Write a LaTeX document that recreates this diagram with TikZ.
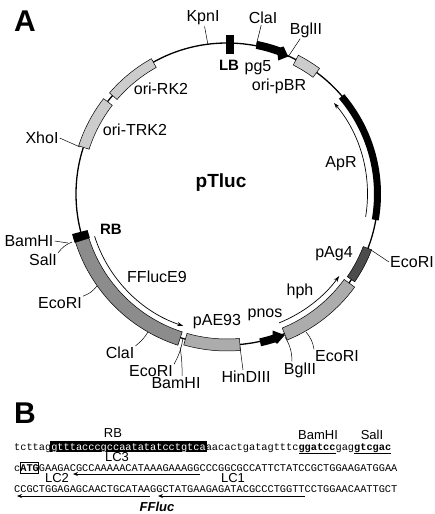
\documentclass[tikz,border=0pt]{standalone}
\usepackage{fontspec}
\usetikzlibrary{arrows.meta}
\setmainfont{Liberation Sans}
\setmonofont{Liberation Mono}
\tikzset{
  site/.style={font=\fontsize{16}{18}\selectfont,inner sep=1pt},
  small/.style={font=\fontsize{13}{15}\selectfont,inner sep=0pt},
  seq/.style={font=\fontsize{10.3}{12}\ttfamily,anchor=base west,inner sep=0pt},
  leader/.style={line width=0.5pt},
  tick/.style={line width=0.7pt,-{Stealth[length=6pt,width=4pt]}},
  feat/.style={draw=black,line width=0.5pt,fill=#1}
}
% plasmid segment: start angle, end angle, inner and outer radius
\newcommand{\plasmidseg}[5]{\path[#1] (#2:#4) arc[start angle=#2,end angle=#3,radius=#4]
  -- (#3:#5) arc[start angle=#3,end angle=#2,radius=#5] -- cycle;}
\begin{document}
\begin{tikzpicture}[x=1pt,y=1pt]
\useasboundingbox (0,0) rectangle (434,-514);
\node[font=\fontsize{30}{32}\bfseries,inner sep=0pt] (panela) at (25,-21) {A};
\node[font=\fontsize{30}{32}\bfseries,inner sep=0pt] (panelb) at (25,-413) {B};

\begin{scope}[shift={(227,-194)}]
\draw[line width=1.3pt] (0,0) circle (151);
\plasmidseg{feat=gray!40}{119.2}{139.3}{145}{155}
\plasmidseg{feat=gray!40}{142.3}{162}{145}{156}
\plasmidseg{feat=gray!40}{62.8}{53.6}{145}{156}
\plasmidseg{fill=black}{40.4}{-9.9}{147}{154}
\plasmidseg{feat=black!70}{-21.1}{-34.5}{146}{155}
\plasmidseg{feat=gray!65}{-36.1}{-67.6}{145}{158}
\plasmidseg{feat=gray!65}{-106}{-85.1}{145}{157}
\plasmidseg{feat=gray!90}{197.7}{252}{145}{159}
\plasmidseg{fill=black}{194.5}{197.7}{144}{160}
\fill[black] (-1,140) -- (7,140) -- (7,159) -- (-1,159) -- cycle; % LB
% pg5 and pnos promoters
\fill[black] (78.8:148) arc[start angle=78.8,end angle=70,radius=148] -- (69:143) -- (66:150.5)
  -- (69:158) -- (70:156) arc[start angle=70,end angle=78.8,radius=156] -- cycle;
\fill[black] (-77.4:148) arc[start angle=-77.4,end angle=-72,radius=148] -- (-71.5:144) -- (-67.7:152.5)
  -- (-71.5:158) -- (-72:156) arc[start angle=-72,end angle=-77.4,radius=156] -- cycle;
% direction arrows
\draw[tick] (-9.4:140.5) arc[start angle=-9.4,end angle=40.4,radius=140.5];
\draw[tick] (-68:139) arc[start angle=-68,end angle=-36.2,radius=139];
\draw[tick] (197.7:139) arc[start angle=197.7,end angle=251.6,radius=139];
\end{scope}

\node[font=\fontsize{19}{21}\bfseries,inner sep=0pt] (ptluc) at (221,-183) {pTluc};
\node[font=\fontsize{15}{17}\bfseries,inner sep=0pt] (lb) at (229,-65) {LB};
\node[font=\fontsize{15}{17}\bfseries,inner sep=0pt] (rb) at (111,-229) {RB};

\node[site] (orirk) at (161,-89) {ori-RK2};
\node[site] (oritrk) at (135,-130) {ori-TRK2};
\node[site] (pgfive) at (258,-68) {pg5};
\node[site] (oripbr) at (279,-86) {ori-pBR};
\node[site] (apr) at (341,-164) {ApR};
\node[site] (pagfour) at (334,-254) {pAg4};
\node[site] (hph) at (300,-291) {hph};
\node[site] (pnos) at (265,-315) {pnos};
\node[site] (pae) at (217,-322) {pAE93};
\node[site] (ffluce) at (157,-277) {FFlucE9};

\node[site] (kpni) at (203,-18) {KpnI};
\node[site] (clai) at (263,-18) {ClaI};
\node[site] (bglii) at (306,-30) {BglII};
\node[site] (xhoi) at (42,-138) {XhoI};
\node[site] (bamhi) at (29,-241) {BamHI};
\node[site] (sali) at (43,-260) {SalI};
\node[site] (ecoria) at (60,-303) {EcoRI};
\node[site] (claib) at (120,-353) {ClaI};
\node[site] (ecorib) at (151,-371) {EcoRI};
\node[site] (bamhib) at (176,-383) {BamHI};
\node[site] (hindiii) at (246,-377) {HinDIII};
\node[site] (bgliib) at (300,-370) {BglII};
\node[site] (ecoric) at (337,-356) {EcoRI};
\node[site] (ecorid) at (412,-262) {EcoRI};

\coordinate (kpnisite) at (208,-45);
\coordinate (claisite) at (256,-46);
\coordinate (bgliisite) at (288,-57);
\coordinate (xhoisite) at (80,-147);
\coordinate (bamhisite) at (68,-243);
\coordinate (salisite) at (72,-242);
\coordinate (ecoriasite) at (97,-286);
\coordinate (claibsite) at (148,-332);
\coordinate (ecoribsite) at (183,-338);
\coordinate (bamhibsite) at (180,-347);
\coordinate (hindiiisite) at (240,-347);
\coordinate (bgliibsite) at (285,-337);
\coordinate (ecoricsite) at (306,-332);
\coordinate (ecoridsite) at (371,-250);

\draw[leader] (kpni) -- (kpnisite);
\draw[leader] (clai) -- (claisite);
\draw[leader] (bglii) -- (bgliisite);
\draw[leader] (xhoi.east) -- (xhoisite);
\draw[leader] (bamhi.east) -- (bamhisite);
\draw[leader] (sali.north east) to[bend left=15] (salisite);
\draw[leader] (ecoria.north east) to[bend right=15] (ecoriasite);
\draw[leader] (claib.north east) to[bend right=10] (claibsite);
\draw[leader] (ecorib.north east) to[bend right=10] (ecoribsite);
\draw[leader] (bamhib.north) ++(6,0) to[bend right=5] (bamhibsite);
\draw[leader] (hindiii.north) ++(-3,0) -- (hindiiisite);
\draw[leader] (bgliib.north) ++(-8,0) to[bend right=15] (bgliibsite);
\draw[leader] (ecoric.north west) to[bend right=15] (ecoricsite);
\draw[leader] (ecorid.west) -- (ecoridsite);

% panel B
\fill[black] (50,-441) rectangle (207,-452);
\node[small] (rbtag) at (113,-433) {RB};
\node[small] (bamtag) at (318,-435) {BamHI};
\node[small] (saltag) at (372,-435) {SalI};
\node[seq] (lineone) at (14,-450) {tcttag\textcolor{white}{gtttacccgccaatatatcctgtca}aacactgatagtttc\underline{\textbf{ggatcc}}gag\underline{\textbf{gtcgac}}};
\node[seq] (linetwo) at (14,-471.5) {c\textbf{ATG}GAAGACGCCAAAAACATAAAGAAAGGCCCGGCGCCATTCTATCCGCTGGAAGATGGAA};
\node[seq] (linethree) at (14,-492.5) {CCGCTGGAGAGCAACTGCATAAGGCTATGAAGAGATACGCCCTGGTTCCTGGAACAATTGCT};
\draw[line width=0.6pt] (20,-462) rectangle (38.5,-473);
\node[small] (lcthree) at (117,-457.5) {LC3};
\node[small] (lctwo) at (57,-478.5) {LC2};
\node[small] (lcone) at (233,-478) {LC1};
\node[font=\fontsize{13}{15}\bfseries\itshape,inner sep=0pt] (ffluc) at (157,-507) {FFluc};
\coordinate (lcthreea) at (200,-474);
\coordinate (lcthreeb) at (73,-474);
\coordinate (lctwoa) at (150,-496);
\coordinate (lctwob) at (17,-496);
\coordinate (lconea) at (305,-496);
\coordinate (lconeb) at (158,-496);
\draw[line width=0.8pt,-{Stealth[length=5pt,width=4pt]}] (lcthreea) -- (lcthreeb);
\draw[line width=0.8pt,-{Stealth[length=5pt,width=4pt]}] (lctwoa) -- (lctwob);
\draw[line width=0.8pt,-{Stealth[length=5pt,width=4pt]}] (lconea) -- (lconeb);
\end{tikzpicture}
\end{document}
